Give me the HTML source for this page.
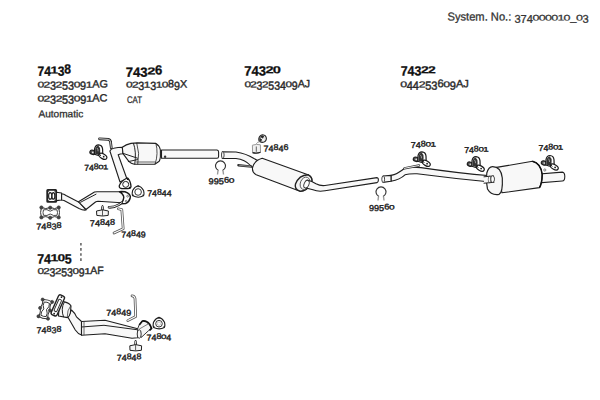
<!DOCTYPE html>
<html><head><meta charset="utf-8">
<style>
html,body{margin:0;padding:0;background:#fff;width:600px;height:400px;overflow:hidden}
svg{display:block}
text{font-family:"Liberation Sans",sans-serif;text-rendering:geometricPrecision}
.r{fill:#2e2e2e;font-size:10.5px;stroke:#2e2e2e;stroke-width:0.25px}
.b{fill:#111;font-size:12px;font-weight:bold;stroke:#111;stroke-width:0.2px}
.s{fill:#2e2e2e;font-size:8.6px;stroke:#2e2e2e;stroke-width:0.3px}
.p{fill:#f8f8f8;stroke:#1e1e1e;stroke-width:1.1;stroke-linejoin:round}
.l{fill:none;stroke:#222;stroke-width:1;stroke-linecap:round;stroke-linejoin:round}
.d{fill:#333;stroke:#222;stroke-width:0.8}
</style></head><body>
<svg width="600" height="400" viewBox="0 0 600 400">

<!-- ===== DRAWINGS ===== -->
<g id="top-cat">
  <!-- hook strip -->
  <path d="M99.5,138.8 L108.4,139.4 Q110.3,139.8 110.5,141.8 L111.3,147.8" fill="none" stroke="#222" stroke-width="2.7" stroke-linecap="round" stroke-linejoin="round"/>
  <path d="M99.5,138.8 L108.4,139.4 Q110.3,139.8 110.5,141.8 L111.3,147.8" fill="none" stroke="#fff" stroke-width="0.8" stroke-linecap="round" stroke-linejoin="round"/>
  <!-- downpipe -->
  <path class="p" d="M109.9,151 Q111,148.6 113.7,148.2 Q118,147.4 122.3,147.2 L123,153.7 Q120,153.8 118.2,154.8 L126.8,178.5 L120,182 Z"/>
  <!-- cat cone + body -->
  <path class="p" d="M122.3,147.2 Q126,144.5 131,143.4 L137.5,142.9 L155.9,143.4 Q159.5,145.5 160.4,150 L160.4,157 Q160,160 159.2,161.3 L154.8,164.2 L134.3,164.2 Q131,163.5 128.8,161.3 L123,153.7 Z"/>
  <path class="l" d="M122.9,153.3 L137.5,158.2"/>
  <path class="l" d="M128.3,161.6 L137.5,159.6"/>
  <path class="l" d="M133.5,143.4 Q136.6,152 134.8,164"/>
  <path class="l" d="M136.8,143.2 Q140,153 137.8,164" style="stroke-width:0.8"/>
  <path class="l" d="M136.5,162 L155,162" style="stroke-width:0.7"/>
  <path class="l" d="M155.9,143.4 Q158.6,153.5 155.2,163.8" style="stroke-width:0.8"/>
  <!-- tailpipe -->
  <path class="p" d="M161.5,150 L217,150 Q218.6,150.2 218.6,152 L218.6,156.5 Q218.5,158.3 217,158.3 L161.5,158.3 Z"/>
  <circle cx="165.1" cy="156.8" r="1.2" fill="#333"/>
  <!-- flange triangle -->
  <path d="M119.3,185.6 Q121.2,180.4 127.6,178 Q130.6,180.8 131,186.6 Q130.6,188.6 128,188.6 L121.6,188.5 Q118.9,188.2 119.3,185.6 Z" fill="#fff" stroke="#1a1a1a" stroke-width="1.3" stroke-linejoin="round"/>
  <circle cx="125.7" cy="184.4" r="3" fill="#fff" stroke="#222" stroke-width="1"/>
  <circle cx="127.8" cy="179.2" r="0.9" fill="#111"/>
  <circle cx="129.7" cy="187.6" r="0.9" fill="#111"/>
  <!-- gasket 74844 -->
  <path d="M138.1,185.7 Q141.5,186.6 143.6,190.5 Q144.5,194.5 143.4,195.8 Q138.5,198.6 132.8,195.8 Q131.7,194.5 132.6,190.5 Q134.7,186.6 138.1,185.7 Z" fill="#fff" stroke="#1e1e1e" stroke-width="1.1" stroke-linejoin="round"/>
  <circle cx="138.1" cy="192" r="3.3" fill="#fff" stroke="#222" stroke-width="0.9"/>
  <g fill="#222"><circle cx="138.1" cy="186.4" r="0.8"/><circle cx="143.1" cy="195.3" r="0.8"/><circle cx="133.1" cy="195.3" r="0.8"/></g>
</g>

<g id="front-pipe">
  <!-- dark square flange -->
  <rect x="47.2" y="189.9" width="9" height="12" rx="0.6" fill="#fff" stroke="#222" stroke-width="1.8"/>
  <ellipse cx="50.2" cy="195.9" rx="1.6" ry="3.3" fill="#fff" stroke="#222" stroke-width="1.2"/>
  <ellipse cx="53.4" cy="195.9" rx="1.4" ry="3.3" fill="#fff" stroke="#222" stroke-width="1.2"/>
  <g fill="#222"><circle cx="48.5" cy="191" r="0.8"/><circle cx="55" cy="191" r="0.8"/><circle cx="48.5" cy="201" r="0.8"/><circle cx="55" cy="201" r="0.8"/></g>
  <!-- stub -->
  <path class="p" d="M56.4,192.2 L61.6,193 L61.6,200 L56.4,200.6 Z"/>
  <!-- first pipe -->
  <path class="p" d="M61.6,193.8 Q64,194 66,195.5 L79.5,202.5 L86,210 Q83,210.5 79,208.5 L64,200.5 Q62.5,200 61.6,200 Z"/>
  <!-- second pipe -->
  <path class="p" d="M78.5,201.8 L94.5,192 Q96,191.7 98,191.8 L119.4,191.8 Q123.8,194 123.8,197.5 Q123.8,201 121.5,202.8 L98,201.2 Q96.5,201.2 95.5,202 L86,209.5 Z"/>
  <path class="l" d="M80.5,202.3 L96,194.2" stroke-width="0.7"/>
  <!-- right flange -->
  <path d="M119.4,191.6 Q125,191.2 127.5,192.8 Q131,195 130.2,198 Q129.3,202 125.5,203.6 L120.7,203.8 Q123.8,201 123.8,197.5 Q123.6,194 119.4,191.6 Z" fill="#fff" stroke="#1a1a1a" stroke-width="1.4" stroke-linejoin="round"/>
  <circle cx="127.6" cy="196.2" r="0.9" fill="#fff" stroke="#333" stroke-width="0.6"/>
  <circle cx="126.2" cy="201.2" r="0.9" fill="#fff" stroke="#333" stroke-width="0.6"/>
  <!-- small bracket -->
  <path d="M109,207.3 Q114,207.6 119,204.6 L121.5,202.8" fill="none" stroke="#222" stroke-width="2.6" stroke-linecap="round"/>
  <path d="M109,207.3 Q114,207.6 119,204.6 L121.5,202.8" fill="none" stroke="#fff" stroke-width="0.9" stroke-linecap="round"/>
  <!-- 74848 mount -->
  <path d="M102.5,205.2 Q103.6,206.5 103.4,208 L103.3,210.2 L101.7,210.2 L101.6,208 Q101.4,206.5 102.5,205.2 Z" fill="#fff" stroke="#222" stroke-width="0.9"/>
  <path d="M96.5,211 L102.5,209.8 L108.4,211 L108.2,215.4 L102.5,216 L96.8,215.4 Z" fill="#f4f4f4" stroke="#222" stroke-width="1"/>
  <line x1="102.5" y1="210" x2="102.5" y2="215.8" stroke="#333" stroke-width="0.8"/>
  <!-- 74849 strip -->
  <path d="M118.3,208.8 L121.8,209.6 L123.2,228.8 L114,233" fill="none" stroke="#555" stroke-width="2.7" stroke-linejoin="round" stroke-linecap="round"/>
  <path d="M118.3,208.8 L121.8,209.6 L123.2,228.8 L114,233" fill="none" stroke="#fff" stroke-width="1.1" stroke-linejoin="round" stroke-linecap="round"/>
  <!-- gasket 74838 top -->
  <path d="M41.4,207.5 Q45.8,209.6 50.2,207.5 Q54.5,209.6 58.7,207.5 Q60.3,212.5 58.7,217.4 Q54.5,215.6 50.2,217.9 Q45.8,215.6 41.4,217.4 Q39.8,212.5 41.4,207.5 Z" fill="#fff" stroke="#333" stroke-width="1"/>
  <path d="M43.5,209.8 Q47,208.8 50.2,211.2 Q53.5,208.8 57,209.8 Q58,212.6 57,215.3 Q53.5,216.3 50.2,214 Q47,216.3 43.5,215.3 Q42.5,212.6 43.5,209.8 Z" fill="#fff" stroke="#333" stroke-width="0.9"/>
  <g fill="#444" stroke="#333" stroke-width="0.5"><circle cx="41.4" cy="207.5" r="1.7"/><circle cx="50.2" cy="207.7" r="1.7"/><circle cx="58.7" cy="207.5" r="1.7"/><circle cx="41.4" cy="217.4" r="1.7"/><circle cx="50.2" cy="217.8" r="1.7"/><circle cx="58.7" cy="217.4" r="1.7"/></g>
</g>
</g>



<g transform="translate(89.6 144.3)">
    <ellipse cx="3" cy="8" rx="2.8" ry="2.1" transform="rotate(20 3 8)" fill="#555" stroke="#1a1a1a" stroke-width="1.1"/>
    <circle cx="3.2" cy="8.1" r="0.8" fill="#eee"/>
    <path d="M5,10 L5,4.6 Q5.6,0.6 9,0.5 Q12.6,0.8 13,4.7 L13.2,11 Q9.5,12.2 5,10 Z" fill="#fff" stroke="#1a1a1a" stroke-width="1.2"/>
    <path d="M5.6,9.8 L5.6,4.8 Q6.1,1.8 8.8,1.5 Q10.8,3 10.6,6.5 L10.3,11 Z" fill="#333"/>
    <path d="M7.3,3.6 Q8.6,4.6 8.5,7" fill="none" stroke="#bbb" stroke-width="0.8"/>
    <ellipse cx="13.3" cy="12" rx="4.3" ry="2.4" transform="rotate(30 13.3 12)" fill="#fff" stroke="#1a1a1a" stroke-width="1.2"/>
    <circle cx="14.1" cy="12.4" r="0.9" fill="#222"/>
    <path d="M9.8,9.6 L11.2,11.6" stroke="#222" stroke-width="1"/>
  </g>
<g transform="translate(413 151.3)">
    <ellipse cx="3" cy="8" rx="2.8" ry="2.1" transform="rotate(20 3 8)" fill="#555" stroke="#1a1a1a" stroke-width="1.1"/>
    <circle cx="3.2" cy="8.1" r="0.8" fill="#eee"/>
    <path d="M5,10 L5,4.6 Q5.6,0.6 9,0.5 Q12.6,0.8 13,4.7 L13.2,11 Q9.5,12.2 5,10 Z" fill="#fff" stroke="#1a1a1a" stroke-width="1.2"/>
    <path d="M5.6,9.8 L5.6,4.8 Q6.1,1.8 8.8,1.5 Q10.8,3 10.6,6.5 L10.3,11 Z" fill="#333"/>
    <path d="M7.3,3.6 Q8.6,4.6 8.5,7" fill="none" stroke="#bbb" stroke-width="0.8"/>
    <ellipse cx="13.3" cy="12" rx="4.3" ry="2.4" transform="rotate(30 13.3 12)" fill="#fff" stroke="#1a1a1a" stroke-width="1.2"/>
    <circle cx="14.1" cy="12.4" r="0.9" fill="#222"/>
    <path d="M9.8,9.6 L11.2,11.6" stroke="#222" stroke-width="1"/>
  </g>
<g transform="translate(467 156.2)">
    <ellipse cx="3" cy="8" rx="2.8" ry="2.1" transform="rotate(20 3 8)" fill="#555" stroke="#1a1a1a" stroke-width="1.1"/>
    <circle cx="3.2" cy="8.1" r="0.8" fill="#eee"/>
    <path d="M5,10 L5,4.6 Q5.6,0.6 9,0.5 Q12.6,0.8 13,4.7 L13.2,11 Q9.5,12.2 5,10 Z" fill="#fff" stroke="#1a1a1a" stroke-width="1.2"/>
    <path d="M5.6,9.8 L5.6,4.8 Q6.1,1.8 8.8,1.5 Q10.8,3 10.6,6.5 L10.3,11 Z" fill="#333"/>
    <path d="M7.3,3.6 Q8.6,4.6 8.5,7" fill="none" stroke="#bbb" stroke-width="0.8"/>
    <ellipse cx="13.3" cy="12" rx="4.3" ry="2.4" transform="rotate(30 13.3 12)" fill="#fff" stroke="#1a1a1a" stroke-width="1.2"/>
    <circle cx="14.1" cy="12.4" r="0.9" fill="#222"/>
    <path d="M9.8,9.6 L11.2,11.6" stroke="#222" stroke-width="1"/>
  </g>
<g transform="translate(541 155)">
    <ellipse cx="3" cy="8" rx="2.8" ry="2.1" transform="rotate(20 3 8)" fill="#555" stroke="#1a1a1a" stroke-width="1.1"/>
    <circle cx="3.2" cy="8.1" r="0.8" fill="#eee"/>
    <path d="M5,10 L5,4.6 Q5.6,0.6 9,0.5 Q12.6,0.8 13,4.7 L13.2,11 Q9.5,12.2 5,10 Z" fill="#fff" stroke="#1a1a1a" stroke-width="1.2"/>
    <path d="M5.6,9.8 L5.6,4.8 Q6.1,1.8 8.8,1.5 Q10.8,3 10.6,6.5 L10.3,11 Z" fill="#333"/>
    <path d="M7.3,3.6 Q8.6,4.6 8.5,7" fill="none" stroke="#bbb" stroke-width="0.8"/>
    <ellipse cx="13.3" cy="12" rx="4.3" ry="2.4" transform="rotate(30 13.3 12)" fill="#fff" stroke="#1a1a1a" stroke-width="1.2"/>
    <circle cx="14.1" cy="12.4" r="0.9" fill="#222"/>
    <path d="M9.8,9.6 L11.2,11.6" stroke="#222" stroke-width="1"/>
  </g>
<g transform="translate(220.5 165.5)">
    <path d="M-2,5 A5,5 0 1 1 2,5" fill="none" stroke="#333" stroke-width="1.1"/>
    <line x1="-2.5" y1="5.2" x2="-3" y2="9" stroke="#999" stroke-width="1.4"/>
    <line x1="2.5" y1="5.2" x2="3" y2="9" stroke="#999" stroke-width="1.4"/>
  </g>
<g transform="translate(381 191.5)">
    <path d="M-2,5 A5,5 0 1 1 2,5" fill="none" stroke="#333" stroke-width="1.1"/>
    <line x1="-2.5" y1="5.2" x2="-3" y2="9" stroke="#999" stroke-width="1.4"/>
    <line x1="2.5" y1="5.2" x2="3" y2="9" stroke="#999" stroke-width="1.4"/>
  </g>

<g id="mid">
  <!-- pipe 2 -->
  <path class="p" d="M222.3,151.7 L236,152 Q246,153.5 254,158.5 L262,163 L257,172 L250.5,165.5 Q245,159.5 236,158.5 L222.3,158.4 Z"/>
  <ellipse cx="222.8" cy="155" rx="1.3" ry="3.3" fill="#fff" stroke="#333" stroke-width="0.9"/>
  <!-- strap -->
  <path d="M238.4,165.2 L251.5,166.6" fill="none" stroke="#333" stroke-width="2.4" stroke-linecap="round"/>
  <path d="M239.5,165.3 L250.5,166.5" fill="none" stroke="#999" stroke-width="0.8" stroke-linecap="round"/>
  <!-- muffler 74320 -->
  <path class="p" d="M262.2,158.2 L308,174.7 Q314,178 311,184 Q306,191.5 300,191.2 L256.2,174.7 Q252,172.5 252.5,168 Q254,160.5 262.2,158.2 Z" stroke-width="1"/>
  <path d="M308,174.7 Q314,178 311,184 Q306,191.5 300,191.2 Q294,189 295.5,184 Q299,175 308,174.7 Z" fill="#f3f3f3" stroke="#222" stroke-width="1.4"/>
  <ellipse cx="305" cy="183.3" rx="4.6" ry="6.4" transform="rotate(22 305 183.3)" fill="#fafafa" stroke="#444" stroke-width="0.8"/>
  <!-- muffler outlet pipe -->
  <path class="p" d="M307,180 Q312,181 316,183.8 Q320,186 325,185.5 L377,177.6 Q378.6,177.8 378.4,180 Q378.3,182.4 377,182.6 L325,190.8 Q318,192 313,189.8 L306,188 Z"/>
  <ellipse cx="306.5" cy="184.2" rx="2.4" ry="4" transform="rotate(22 306.5 184.2)" fill="#fff" stroke="#333" stroke-width="0.9"/>
  <!-- 74846 -->
  <path d="M258.8,138.8 Q259.3,135.3 262.6,134.8 Q266.3,135.2 266.4,138.8 Q266,142.3 262.2,142.4 Q258.5,142 258.8,138.8 Z" fill="#e6e6e6" stroke="#222" stroke-width="1.1"/>
  <path d="M259.4,139.6 Q259.2,136 262.6,135.4 L264.2,136.2 L261,141.6 Q259.6,141 259.4,139.6 Z" fill="#2a2a2a"/>
  <path d="M260.4,137.6 L264,140.2" stroke="#fff" stroke-width="1.1"/>
  <path d="M256.3,143.8 Q257.5,141.8 259.8,141.6" fill="none" stroke="#888" stroke-width="0.9"/>
  <path d="M252.4,145.2 Q256.5,143.8 260.4,144.8 L260.5,152.4 Q256.5,153.8 252.6,152.8 Z" fill="#f0f0f0" stroke="#999" stroke-width="1"/>
  <path d="M252.6,152.6 Q256.5,153.8 260.5,152.3" fill="none" stroke="#222" stroke-width="1.1"/>
  <line x1="256.3" y1="146.5" x2="256.3" y2="151.8" stroke="#555" stroke-width="0.9"/>
</g>

<g id="rear">
  <!-- pipe 3 -->
  <path class="p" d="M391,175.4 Q397,174.5 405,168 Q409,166.6 421,167.6 Q455,172.8 493,176 L493,182.2 Q455,178.8 417,173.8 Q409,173.6 405,174.8 Q400,179.5 391,181.3 Z"/>
  <path class="p" d="M383,176 L391,175.4 L391,181.3 L383,182.4 Z"/>
  <ellipse cx="383.2" cy="179.2" rx="1.4" ry="3.2" fill="#fff" stroke="#333" stroke-width="0.9"/>
  <path d="M404.4,168.3 L419,165.5" fill="none" stroke="#333" stroke-width="2.3" stroke-linecap="round"/>
  <path d="M404.4,168.3 L419,165.5" fill="none" stroke="#fff" stroke-width="0.9" stroke-linecap="round"/>
  <!-- rear muffler 74322 -->
  <path class="p" d="M530,174.8 L562.3,172.1 Q564.8,172.4 564.8,176.5 Q564.8,180.8 562.3,181 L530,183.6 Z"/>
  <path class="p" d="M496.6,167.4 L532.5,161.3 Q541,163.5 542.2,174.5 Q542,183.5 539.5,187.6 L502,192.8 Z" style="stroke-width:1.1"/>
  <path d="M532.5,161.3 Q541,163.5 542.2,174.5 Q542,183.5 539.5,187.6" fill="none" stroke="#111" stroke-width="1.5"/>
  <circle cx="544.8" cy="170" r="1.1" fill="#fff" stroke="#555" stroke-width="0.7"/>
  <path d="M492.5,166.6 Q501,166.5 502.3,178 Q503,192.5 499,194.4 Q491,195.5 487.5,189 Q485.5,181 486.8,173 Q488.5,166.8 492.5,166.6 Z" fill="#f7f7f7" stroke="#222" stroke-width="1.2"/>
  <path d="M484,176.8 L494,175.9 L494.5,182.3 L484,183.2 Z" fill="#f7f7f7" stroke="none"/>
  <path class="l" d="M484,176.8 L493.5,175.9 M484,183.2 L494,182.3"/>
  <ellipse cx="492.6" cy="179.1" rx="1.9" ry="3.3" fill="#fff" stroke="#333" stroke-width="0.9"/>
  <ellipse cx="489.5" cy="179.4" rx="1.2" ry="3.6" fill="none" stroke="#555" stroke-width="0.7"/>
</g>


<g id="bottom">
  <!-- gasket 74838 bottom (rotated) -->
  <g transform="translate(45.2 309.1) rotate(104) translate(-50.05 -212.6)">
  <path d="M41.4,207.5 Q45.8,209.6 50.2,207.5 Q54.5,209.6 58.7,207.5 Q60.3,212.5 58.7,217.4 Q54.5,215.6 50.2,217.9 Q45.8,215.6 41.4,217.4 Q39.8,212.5 41.4,207.5 Z" fill="#fff" stroke="#333" stroke-width="1"/>
  <path d="M43.5,209.8 Q47,208.8 50.2,211.2 Q53.5,208.8 57,209.8 Q58,212.6 57,215.3 Q53.5,216.3 50.2,214 Q47,216.3 43.5,215.3 Q42.5,212.6 43.5,209.8 Z" fill="#fff" stroke="#333" stroke-width="0.9"/>
  <g fill="#444" stroke="#333" stroke-width="0.5"><circle cx="41.4" cy="207.5" r="1.6"/><circle cx="50.2" cy="207.7" r="1.6"/><circle cx="58.7" cy="207.5" r="1.6"/><circle cx="41.4" cy="217.4" r="1.6"/><circle cx="50.2" cy="217.8" r="1.6"/><circle cx="58.7" cy="217.4" r="1.6"/></g>
  </g>
  <!-- pipe from cat -->
  <path class="p" d="M67.8,316.9 L71.5,310 Q75,313 76.5,316.9 L81.5,321.5 L81.5,335 Q78,334 75.3,330 Z"/>
  <!-- long pipe -->
  <path class="p" d="M81.5,321.5 L105,320.2 L137.7,328.7 L137.7,337.7 L132,338.2 L105,333.7 L81.5,335.2 Z"/>
  <path class="l" d="M81.5,327 L104,325.3 L137.7,329.8" stroke-width="0.8"/>
  <line x1="84" y1="321.5" x2="84" y2="335" stroke="#444" stroke-width="0.8"/>
  <!-- pipe end sleeve -->
  <path d="M137.5,329.2 L139,325.2 L142.4,321 Q146.5,320.5 149.5,324.4 L151.4,328.2 L148.4,330.8 L141.3,337.4 Z" fill="#f5f5f5" stroke="#222" stroke-width="0.9" stroke-linejoin="round"/>
  <path d="M139.2,325 L142.4,321 Q146.5,320.3 149.6,324.2 L151.6,328.3 L149.5,330.5" fill="none" stroke="#111" stroke-width="1.7" stroke-linejoin="round"/>
  <line x1="139.3" y1="329" x2="148.8" y2="323.6" stroke="#444" stroke-width="0.7"/>
  <ellipse cx="139.2" cy="334" rx="2" ry="4.3" fill="#f5f5f5" stroke="#222" stroke-width="0.9"/>
  <!-- cat small -->
  <path class="p" d="M59.5,299.5 L64.6,301.9 Q69.5,303 71,306 L70.4,312.8 Q69.5,316.5 67.5,317.6 L58.5,316 Z"/>
  <path class="l" d="M64.2,302.3 Q60.5,309 63.5,316.8"/>
  <path class="l" d="M70.5,306 Q67,310 67.2,317.2" style="stroke-width:0.7"/>
  <!-- flange tilted (cat inlet) -->
  <g transform="translate(57.8 305.4) rotate(-66)">
    <rect x="-10.8" y="-3.2" width="21.6" height="6.4" rx="2" fill="#fff" stroke="#222" stroke-width="1.4"/>
    <rect x="-6.5" y="-1.5" width="13" height="3" rx="1.2" fill="#fff" stroke="#333" stroke-width="1"/>
    <circle cx="-9" cy="0" r="0.9" fill="#222"/><circle cx="9" cy="0" r="0.9" fill="#222"/>
  </g>
  <!-- 74849 bottom strip -->
  <path d="M132,295.8 Q134.5,296 135,298.5 L135.7,316.5 L127.8,320.6" fill="none" stroke="#555" stroke-width="2.7" stroke-linejoin="round" stroke-linecap="round"/>
  <path d="M132,295.8 Q134.5,296 135,298.5 L135.7,316.5 L127.8,320.6" fill="none" stroke="#fff" stroke-width="1.1" stroke-linejoin="round" stroke-linecap="round"/>
  <!-- 74804 gasket -->
  <path d="M159,317.4 Q162.4,318.3 164.5,322.2 Q165.4,326.2 164.3,327.5 Q159.4,330.3 153.7,327.5 Q152.6,326.2 153.5,322.2 Q155.6,318.3 159,317.4 Z" fill="#fff" stroke="#1e1e1e" stroke-width="1.1" stroke-linejoin="round"/>
  <circle cx="159" cy="323.7" r="3.3" fill="#fff" stroke="#222" stroke-width="0.9"/>
  <circle cx="159" cy="323.7" r="1.7" fill="#fff" stroke="#aaa" stroke-width="0.6"/>
  <g fill="#222"><circle cx="159" cy="318.1" r="0.8"/><circle cx="164" cy="327" r="0.8"/><circle cx="154" cy="327" r="0.8"/></g>
  <!-- 74848 bottom mount -->
  <path d="M135.6,340 Q136.7,341.3 136.5,342.8 L136.4,345 L134.8,345 L134.7,342.8 Q134.5,341.3 135.6,340 Z" fill="#fff" stroke="#222" stroke-width="0.9"/>
  <path d="M129.8,345.8 L135.6,344.6 L141.6,345.8 L141.4,350.3 L135.6,350.9 L130,350.3 Z" fill="#f4f4f4" stroke="#222" stroke-width="1"/>
  <line x1="135.6" y1="344.8" x2="135.6" y2="350.7" stroke="#333" stroke-width="0.8"/>
</g>

<!-- header / text -->
<text class="r" transform="translate(38.5 117.2) rotate(0.05)" style="font-size:10px;stroke-width:0.3px" textLength="44.8" lengthAdjust="spacingAndGlyphs">Automatic</text>
<text class="r" transform="translate(127 102.9) rotate(0.05)" style="font-size:9.6px;stroke-width:0.3px" textLength="15" lengthAdjust="spacingAndGlyphs">CAT</text>
<line x1="80.9" y1="243" x2="80.9" y2="261" stroke="#777" stroke-width="1.8" stroke-dasharray="2.6,2.5"/>
<g style="font-size:11.50px;fill:#333;stroke:#333;stroke-width:0.30px"><text transform="translate(447.49 20.60) scale(0.969 0.999) rotate(0.05)">S</text><text transform="translate(454.93 20.60) scale(0.969 0.999) rotate(0.05)">y</text><text transform="translate(460.50 20.60) scale(0.969 0.999) rotate(0.05)">s</text><text transform="translate(466.08 20.60) scale(0.969 0.999) rotate(0.05)">t</text><text transform="translate(469.17 20.60) scale(0.969 0.999) rotate(0.05)">e</text><text transform="translate(475.37 20.60) scale(0.969 0.999) rotate(0.05)">m</text><text transform="translate(484.66 20.60) scale(0.969 0.999) rotate(0.05)">.</text><text transform="translate(490.85 20.60) scale(0.969 0.999) rotate(0.05)">N</text><text transform="translate(498.90 20.60) scale(0.969 0.999) rotate(0.05)">o</text><text transform="translate(505.10 20.60) scale(0.969 0.999) rotate(0.05)">.</text><text transform="translate(508.20 20.60) scale(0.969 0.999) rotate(0.05)">:</text><text transform="translate(514.39 22.70) scale(0.969 0.973) rotate(0.05)">3</text><text transform="translate(520.59 22.70) scale(0.969 0.973) rotate(0.05)">7</text><text transform="translate(526.79 22.70) scale(0.969 0.973) rotate(0.05)">4</text><text transform="translate(532.62 20.60) scale(1.086 0.708) rotate(0.05)">0</text><text transform="translate(538.82 20.60) scale(1.086 0.708) rotate(0.05)">0</text><text transform="translate(545.02 20.60) scale(1.086 0.708) rotate(0.05)">0</text><text transform="translate(551.22 20.60) scale(1.086 0.708) rotate(0.05)">0</text><text transform="translate(557.40 20.60) scale(1.086 0.708) rotate(0.05)">1</text><text transform="translate(563.62 20.60) scale(1.086 0.708) rotate(0.05)">0</text><text transform="translate(570.19 20.60) scale(0.969 0.999) rotate(0.05)">_</text><text transform="translate(576.02 20.60) scale(1.086 0.708) rotate(0.05)">0</text><text transform="translate(582.59 22.70) scale(0.969 0.973) rotate(0.05)">3</text></g>
<g style="font-size:12.50px;fill:#111;stroke:#111;stroke-width:0.30px;font-weight:bold"><text transform="translate(37.48 75.80) scale(0.966 1.070) rotate(0.05)">7</text><text transform="translate(44.20 75.80) scale(0.966 1.070) rotate(0.05)">4</text><text transform="translate(50.49 73.60) scale(1.082 0.814) rotate(0.05)">1</text><text transform="translate(57.64 75.80) scale(0.966 1.070) rotate(0.05)">3</text><text transform="translate(64.35 73.60) scale(0.966 1.070) rotate(0.05)">8</text></g>
<g style="font-size:12.50px;fill:#111;stroke:#111;stroke-width:0.30px;font-weight:bold"><text transform="translate(125.74 76.80) scale(1.048 1.070) rotate(0.05)">7</text><text transform="translate(133.02 76.80) scale(1.048 1.070) rotate(0.05)">4</text><text transform="translate(140.31 76.80) scale(1.048 1.070) rotate(0.05)">3</text><text transform="translate(147.17 74.60) scale(1.174 0.814) rotate(0.05)">2</text><text transform="translate(154.89 74.60) scale(1.048 1.070) rotate(0.05)">6</text></g>
<g style="font-size:12.50px;fill:#111;stroke:#111;stroke-width:0.30px;font-weight:bold"><text transform="translate(244.14 75.40) scale(1.047 1.070) rotate(0.05)">7</text><text transform="translate(251.42 75.40) scale(1.047 1.070) rotate(0.05)">4</text><text transform="translate(258.70 75.40) scale(1.047 1.070) rotate(0.05)">3</text><text transform="translate(265.54 73.20) scale(1.173 0.814) rotate(0.05)">2</text><text transform="translate(272.82 73.20) scale(1.173 0.814) rotate(0.05)">0</text></g>
<g style="font-size:12.50px;fill:#111;stroke:#111;stroke-width:0.30px;font-weight:bold"><text transform="translate(400.67 75.40) scale(0.993 1.070) rotate(0.05)">7</text><text transform="translate(407.57 75.40) scale(0.993 1.070) rotate(0.05)">4</text><text transform="translate(414.48 75.40) scale(0.993 1.070) rotate(0.05)">3</text><text transform="translate(420.97 73.20) scale(1.113 0.814) rotate(0.05)">2</text><text transform="translate(427.88 73.20) scale(1.113 0.814) rotate(0.05)">2</text></g>
<g style="font-size:12.50px;fill:#111;stroke:#111;stroke-width:0.30px;font-weight:bold"><text transform="translate(37.17 263.50) scale(0.992 1.070) rotate(0.05)">7</text><text transform="translate(44.06 263.50) scale(0.992 1.070) rotate(0.05)">4</text><text transform="translate(50.52 261.30) scale(1.111 0.814) rotate(0.05)">1</text><text transform="translate(57.44 261.30) scale(1.111 0.814) rotate(0.05)">0</text><text transform="translate(64.75 263.50) scale(0.992 1.070) rotate(0.05)">5</text></g>
<g style="font-size:10.60px;fill:#2a2a2a;stroke:#2a2a2a;stroke-width:0.38px"><text transform="translate(37.51 87.40) scale(1.146 0.795) rotate(0.05)">0</text><text transform="translate(43.54 87.40) scale(1.146 0.795) rotate(0.05)">2</text><text transform="translate(49.94 89.80) scale(1.023 1.124) rotate(0.05)">3</text><text transform="translate(55.60 87.40) scale(1.146 0.795) rotate(0.05)">2</text><text transform="translate(62.00 89.80) scale(1.023 1.124) rotate(0.05)">5</text><text transform="translate(68.03 89.80) scale(1.023 1.124) rotate(0.05)">3</text><text transform="translate(73.69 87.40) scale(1.146 0.795) rotate(0.05)">0</text><text transform="translate(80.09 89.80) scale(1.023 1.124) rotate(0.05)">9</text><text transform="translate(85.74 87.40) scale(1.146 0.795) rotate(0.05)">1</text><text transform="translate(92.15 87.40) scale(1.023 1.001) rotate(0.05)">A</text><text transform="translate(99.38 87.40) scale(1.023 1.001) rotate(0.05)">G</text></g>
<g style="font-size:10.60px;fill:#2a2a2a;stroke:#2a2a2a;stroke-width:0.38px"><text transform="translate(37.51 101.40) scale(1.149 0.795) rotate(0.05)">0</text><text transform="translate(43.56 101.40) scale(1.149 0.795) rotate(0.05)">2</text><text transform="translate(49.97 103.80) scale(1.026 1.124) rotate(0.05)">3</text><text transform="translate(55.66 101.40) scale(1.149 0.795) rotate(0.05)">2</text><text transform="translate(62.07 103.80) scale(1.026 1.124) rotate(0.05)">5</text><text transform="translate(68.12 103.80) scale(1.026 1.124) rotate(0.05)">3</text><text transform="translate(73.80 101.40) scale(1.149 0.795) rotate(0.05)">0</text><text transform="translate(80.21 103.80) scale(1.026 1.124) rotate(0.05)">9</text><text transform="translate(85.88 101.40) scale(1.149 0.795) rotate(0.05)">1</text><text transform="translate(92.31 101.40) scale(1.026 1.001) rotate(0.05)">A</text><text transform="translate(99.56 101.40) scale(1.026 1.001) rotate(0.05)">C</text></g>
<g style="font-size:10.60px;fill:#2a2a2a;stroke:#2a2a2a;stroke-width:0.38px"><text transform="translate(125.92 87.50) scale(1.135 0.795) rotate(0.05)">0</text><text transform="translate(131.90 87.50) scale(1.135 0.795) rotate(0.05)">2</text><text transform="translate(138.23 89.90) scale(1.014 1.124) rotate(0.05)">3</text><text transform="translate(143.83 87.50) scale(1.135 0.795) rotate(0.05)">1</text><text transform="translate(150.18 89.90) scale(1.014 1.124) rotate(0.05)">3</text><text transform="translate(155.78 87.50) scale(1.135 0.795) rotate(0.05)">1</text><text transform="translate(161.77 87.50) scale(1.135 0.795) rotate(0.05)">0</text><text transform="translate(168.11 87.50) scale(1.014 1.042) rotate(0.05)">8</text><text transform="translate(174.08 89.90) scale(1.014 1.124) rotate(0.05)">9</text><text transform="translate(180.06 87.50) scale(1.014 1.001) rotate(0.05)">X</text></g>
<g style="font-size:10.60px;fill:#2a2a2a;stroke:#2a2a2a;stroke-width:0.38px"><text transform="translate(244.43 87.30) scale(1.116 0.795) rotate(0.05)">0</text><text transform="translate(250.31 87.30) scale(1.116 0.795) rotate(0.05)">2</text><text transform="translate(256.54 89.70) scale(0.996 1.124) rotate(0.05)">3</text><text transform="translate(262.06 87.30) scale(1.116 0.795) rotate(0.05)">2</text><text transform="translate(268.29 89.70) scale(0.996 1.124) rotate(0.05)">5</text><text transform="translate(274.16 89.70) scale(0.996 1.124) rotate(0.05)">3</text><text transform="translate(280.03 89.70) scale(0.996 1.124) rotate(0.05)">4</text><text transform="translate(285.56 87.30) scale(1.116 0.795) rotate(0.05)">0</text><text transform="translate(291.78 89.70) scale(0.996 1.124) rotate(0.05)">9</text><text transform="translate(297.66 87.30) scale(0.996 1.001) rotate(0.05)">A</text><text transform="translate(304.70 87.30) scale(0.996 1.001) rotate(0.05)">J</text></g>
<g style="font-size:10.60px;fill:#2a2a2a;stroke:#2a2a2a;stroke-width:0.38px"><text transform="translate(400.20 87.30) scale(1.168 0.795) rotate(0.05)">0</text><text transform="translate(406.72 89.70) scale(1.043 1.124) rotate(0.05)">4</text><text transform="translate(412.87 89.70) scale(1.043 1.124) rotate(0.05)">4</text><text transform="translate(418.65 87.30) scale(1.168 0.795) rotate(0.05)">2</text><text transform="translate(425.17 89.70) scale(1.043 1.124) rotate(0.05)">5</text><text transform="translate(431.32 89.70) scale(1.043 1.124) rotate(0.05)">3</text><text transform="translate(437.47 87.30) scale(1.043 1.042) rotate(0.05)">6</text><text transform="translate(443.25 87.30) scale(1.168 0.795) rotate(0.05)">0</text><text transform="translate(449.77 89.70) scale(1.043 1.124) rotate(0.05)">9</text><text transform="translate(455.92 87.30) scale(1.043 1.001) rotate(0.05)">A</text><text transform="translate(463.29 87.30) scale(1.043 1.001) rotate(0.05)">J</text></g>
<g style="font-size:10.60px;fill:#2a2a2a;stroke:#2a2a2a;stroke-width:0.38px"><text transform="translate(37.54 274.00) scale(1.107 0.795) rotate(0.05)">0</text><text transform="translate(43.37 274.00) scale(1.107 0.795) rotate(0.05)">2</text><text transform="translate(49.54 276.40) scale(0.988 1.124) rotate(0.05)">3</text><text transform="translate(55.02 274.00) scale(1.107 0.795) rotate(0.05)">2</text><text transform="translate(61.20 276.40) scale(0.988 1.124) rotate(0.05)">5</text><text transform="translate(67.02 276.40) scale(0.988 1.124) rotate(0.05)">3</text><text transform="translate(72.50 274.00) scale(1.107 0.795) rotate(0.05)">0</text><text transform="translate(78.68 276.40) scale(0.988 1.124) rotate(0.05)">9</text><text transform="translate(84.14 274.00) scale(1.107 0.795) rotate(0.05)">1</text><text transform="translate(90.33 274.00) scale(0.988 1.001) rotate(0.05)">A</text><text transform="translate(97.32 274.00) scale(0.988 1.001) rotate(0.05)">F</text></g>
<g style="font-size:8.60px;fill:#222;stroke:#222;stroke-width:0.40px"><text transform="translate(84.26 170.80) scale(0.998 0.997) rotate(0.05)">7</text><text transform="translate(89.03 170.80) scale(0.998 0.997) rotate(0.05)">4</text><text transform="translate(93.80 169.30) scale(0.998 0.980) rotate(0.05)">8</text><text transform="translate(98.29 169.30) scale(1.117 0.744) rotate(0.05)">0</text><text transform="translate(103.05 169.30) scale(1.117 0.744) rotate(0.05)">1</text></g>
<g style="font-size:8.60px;fill:#222;stroke:#222;stroke-width:0.40px"><text transform="translate(147.25 196.20) scale(1.016 0.997) rotate(0.05)">7</text><text transform="translate(152.11 196.20) scale(1.016 0.997) rotate(0.05)">4</text><text transform="translate(156.97 194.70) scale(1.016 0.980) rotate(0.05)">8</text><text transform="translate(161.83 196.20) scale(1.016 0.997) rotate(0.05)">4</text><text transform="translate(166.70 196.20) scale(1.016 0.997) rotate(0.05)">4</text></g>
<g style="font-size:8.60px;fill:#222;stroke:#222;stroke-width:0.40px"><text transform="translate(36.23 229.50) scale(1.065 0.997) rotate(0.05)">7</text><text transform="translate(41.32 229.50) scale(1.065 0.997) rotate(0.05)">4</text><text transform="translate(46.42 228.00) scale(1.065 0.980) rotate(0.05)">8</text><text transform="translate(51.51 229.50) scale(1.065 0.997) rotate(0.05)">3</text><text transform="translate(56.60 228.00) scale(1.065 0.980) rotate(0.05)">8</text></g>
<g style="font-size:8.60px;fill:#222;stroke:#222;stroke-width:0.40px"><text transform="translate(89.83 226.20) scale(1.056 0.997) rotate(0.05)">7</text><text transform="translate(94.89 226.20) scale(1.056 0.997) rotate(0.05)">4</text><text transform="translate(99.94 224.70) scale(1.056 0.980) rotate(0.05)">8</text><text transform="translate(104.99 226.20) scale(1.056 0.997) rotate(0.05)">4</text><text transform="translate(110.04 224.70) scale(1.056 0.980) rotate(0.05)">8</text></g>
<g style="font-size:8.60px;fill:#222;stroke:#222;stroke-width:0.40px"><text transform="translate(121.25 237.50) scale(1.023 0.997) rotate(0.05)">7</text><text transform="translate(126.14 237.50) scale(1.023 0.997) rotate(0.05)">4</text><text transform="translate(131.04 236.00) scale(1.023 0.980) rotate(0.05)">8</text><text transform="translate(135.93 237.50) scale(1.023 0.997) rotate(0.05)">4</text><text transform="translate(140.82 237.50) scale(1.023 0.997) rotate(0.05)">9</text></g>
<g style="font-size:8.60px;fill:#222;stroke:#222;stroke-width:0.40px"><text transform="translate(208.57 184.25) scale(1.068 0.997) rotate(0.05)">9</text><text transform="translate(213.68 184.25) scale(1.068 0.997) rotate(0.05)">9</text><text transform="translate(218.79 184.25) scale(1.068 0.997) rotate(0.05)">5</text><text transform="translate(223.89 182.75) scale(1.068 0.980) rotate(0.05)">6</text><text transform="translate(228.69 182.75) scale(1.196 0.744) rotate(0.05)">0</text></g>
<g style="font-size:8.60px;fill:#222;stroke:#222;stroke-width:0.40px"><text transform="translate(263.54 151.50) scale(1.039 0.997) rotate(0.05)">7</text><text transform="translate(268.51 151.50) scale(1.039 0.997) rotate(0.05)">4</text><text transform="translate(273.48 150.00) scale(1.039 0.980) rotate(0.05)">8</text><text transform="translate(278.45 151.50) scale(1.039 0.997) rotate(0.05)">4</text><text transform="translate(283.42 150.00) scale(1.039 0.980) rotate(0.05)">6</text></g>
<g style="font-size:8.60px;fill:#222;stroke:#222;stroke-width:0.40px"><text transform="translate(368.97 210.90) scale(1.057 0.997) rotate(0.05)">9</text><text transform="translate(374.03 210.90) scale(1.057 0.997) rotate(0.05)">9</text><text transform="translate(379.09 210.90) scale(1.057 0.997) rotate(0.05)">5</text><text transform="translate(384.14 209.40) scale(1.057 0.980) rotate(0.05)">6</text><text transform="translate(388.90 209.40) scale(1.184 0.744) rotate(0.05)">0</text></g>
<g style="font-size:8.60px;fill:#222;stroke:#222;stroke-width:0.40px"><text transform="translate(410.79 148.00) scale(1.041 0.997) rotate(0.05)">7</text><text transform="translate(415.77 148.00) scale(1.041 0.997) rotate(0.05)">4</text><text transform="translate(420.75 146.50) scale(1.041 0.980) rotate(0.05)">8</text><text transform="translate(425.43 146.50) scale(1.166 0.744) rotate(0.05)">0</text><text transform="translate(430.39 146.50) scale(1.166 0.744) rotate(0.05)">1</text></g>
<g style="font-size:8.60px;fill:#222;stroke:#222;stroke-width:0.40px"><text transform="translate(464.15 153.10) scale(1.015 0.997) rotate(0.05)">7</text><text transform="translate(469.01 153.10) scale(1.015 0.997) rotate(0.05)">4</text><text transform="translate(473.86 151.60) scale(1.015 0.980) rotate(0.05)">8</text><text transform="translate(478.43 151.60) scale(1.137 0.744) rotate(0.05)">0</text><text transform="translate(483.27 151.60) scale(1.137 0.744) rotate(0.05)">1</text></g>
<g style="font-size:8.60px;fill:#222;stroke:#222;stroke-width:0.40px"><text transform="translate(538.55 151.10) scale(1.024 0.997) rotate(0.05)">7</text><text transform="translate(543.44 151.10) scale(1.024 0.997) rotate(0.05)">4</text><text transform="translate(548.34 149.60) scale(1.024 0.980) rotate(0.05)">8</text><text transform="translate(552.94 149.60) scale(1.147 0.744) rotate(0.05)">0</text><text transform="translate(557.83 149.60) scale(1.147 0.744) rotate(0.05)">1</text></g>
<g style="font-size:8.60px;fill:#222;stroke:#222;stroke-width:0.40px"><text transform="translate(36.54 333.20) scale(1.039 0.997) rotate(0.05)">7</text><text transform="translate(41.51 333.20) scale(1.039 0.997) rotate(0.05)">4</text><text transform="translate(46.48 331.70) scale(1.039 0.980) rotate(0.05)">8</text><text transform="translate(51.45 333.20) scale(1.039 0.997) rotate(0.05)">3</text><text transform="translate(56.42 331.70) scale(1.039 0.980) rotate(0.05)">8</text></g>
<g style="font-size:8.60px;fill:#222;stroke:#222;stroke-width:0.40px"><text transform="translate(106.24 315.80) scale(1.040 0.997) rotate(0.05)">7</text><text transform="translate(111.22 315.80) scale(1.040 0.997) rotate(0.05)">4</text><text transform="translate(116.19 314.30) scale(1.040 0.980) rotate(0.05)">8</text><text transform="translate(121.17 315.80) scale(1.040 0.997) rotate(0.05)">4</text><text transform="translate(126.15 315.80) scale(1.040 0.997) rotate(0.05)">9</text></g>
<g style="font-size:8.60px;fill:#222;stroke:#222;stroke-width:0.40px"><text transform="translate(146.54 340.50) scale(1.034 0.997) rotate(0.05)">7</text><text transform="translate(151.49 340.50) scale(1.034 0.997) rotate(0.05)">4</text><text transform="translate(156.43 339.00) scale(1.034 0.980) rotate(0.05)">8</text><text transform="translate(161.08 339.00) scale(1.158 0.744) rotate(0.05)">0</text><text transform="translate(166.32 340.50) scale(1.034 0.997) rotate(0.05)">4</text></g>
<g style="font-size:8.60px;fill:#222;stroke:#222;stroke-width:0.40px"><text transform="translate(116.85 360.80) scale(1.026 0.997) rotate(0.05)">7</text><text transform="translate(121.75 360.80) scale(1.026 0.997) rotate(0.05)">4</text><text transform="translate(126.66 359.30) scale(1.026 0.980) rotate(0.05)">8</text><text transform="translate(131.57 360.80) scale(1.026 0.997) rotate(0.05)">4</text><text transform="translate(136.48 359.30) scale(1.026 0.980) rotate(0.05)">8</text></g>
</svg>
</body></html>
